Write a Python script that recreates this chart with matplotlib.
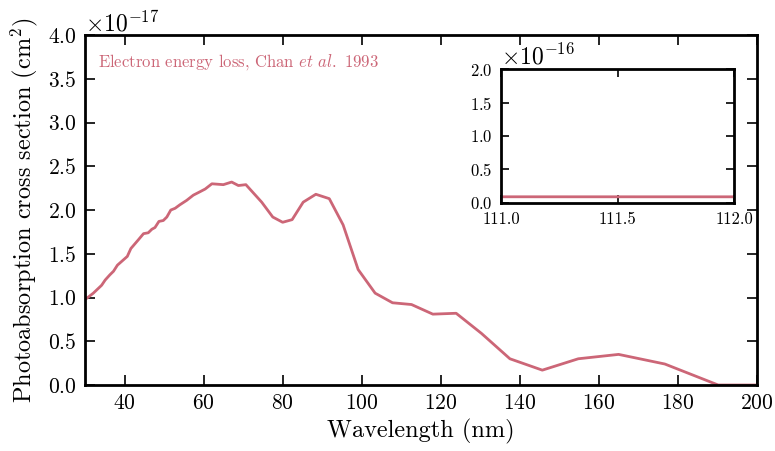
import numpy as np
import matplotlib
matplotlib.use("Agg")
import matplotlib.pyplot as plt

# Computer Modern look for all text
plt.rcParams['font.family'] = 'serif'
plt.rcParams['font.serif'] = ['cmr10']
plt.rcParams['mathtext.fontset'] = 'cm'
plt.rcParams['axes.formatter.use_mathtext'] = True
plt.rcParams['axes.unicode_minus'] = True

# Photoabsorption cross section, electron energy loss (Chan et al. 1993)
wavelength = [30.4, 32.1, 34.2, 35.1, 36.3, 37.2, 38.2, 39.7, 40.7, 41.6,
              43.5, 44.8, 46.0, 46.9, 47.7, 48.7, 49.8, 50.7, 51.7, 52.8,
              54.0, 55.7, 57.4, 58.7, 60.4, 62.1, 65.0, 67.1, 68.8, 70.7,
              74.7, 77.5, 80.0, 82.4, 85.2, 88.4, 91.8, 95.3, 99.1, 103.4,
              107.8, 112.6, 118.0, 123.9, 130.3, 137.5, 145.7, 154.8, 165.0,
              176.7, 190.2, 200.0]
cross_section = [0.99, 1.05, 1.14, 1.20, 1.26, 1.30, 1.37, 1.43, 1.47, 1.56,
                 1.66, 1.73, 1.74, 1.78, 1.80, 1.87, 1.88, 1.92, 2.00, 2.02,
                 2.06, 2.11, 2.17, 2.20, 2.24, 2.30, 2.29, 2.32, 2.28, 2.29,
                 2.09, 1.92, 1.86, 1.89, 2.09, 2.18, 2.13, 1.83, 1.32, 1.05,
                 0.94, 0.92, 0.81, 0.82, 0.59, 0.30, 0.17, 0.30, 0.35,
                 0.24, 0.00, 0.00]
cross_section = np.array(cross_section) * 1e-17

main_xlim = (30, 200)
main_ylim = (0, 4.0e-17)
inset_xlim = (111.0, 112.0)
inset_ylim = (0, 2.0e-16)

line_color = '#cc6677'

fig = plt.figure(figsize=(7.75, 4.51), dpi=100)
ax = fig.add_axes([0.1097, 0.1463, 0.867, 0.776])

ax.plot(wavelength, cross_section, color=line_color, lw=2)
ax.set_xlim(*main_xlim)
ax.set_ylim(*main_ylim)
ax.set_xticks(np.arange(40, 201, 20))
ax.set_yticks(np.arange(0, 4.01e-17, 0.5e-17))
ax.ticklabel_format(axis='y', style='sci', scilimits=(0, 0))
ax.yaxis.get_offset_text().set_fontsize(17)
ax.set_xlabel('Wavelength (nm)', fontsize=17.5, labelpad=4)
ax.set_ylabel('Photoabsorption cross section (cm$^2$)', fontsize=17.5,
              labelpad=6)
ax.tick_params(direction='in', top=True, right=True, length=7, width=1.2,
               labelsize=15.5, pad=6)
for s in ax.spines.values():
    s.set_linewidth(2)

ax.text(0.02, 0.95, r'Electron energy loss, Chan $\mathit{et\ al.}$ 1993',
        transform=ax.transAxes, color=line_color, fontsize=12,
        ha='left', va='top')

# zoomed view around 111-112 nm
axin = fig.add_axes([0.6465, 0.5499, 0.3006, 0.2971])
axin.plot(wavelength, cross_section, color=line_color, lw=2)
axin.set_xlim(*inset_xlim)
axin.set_ylim(*inset_ylim)
axin.set_xticks([111.0, 111.5, 112.0])
axin.set_yticks(np.arange(0, 2.01e-16, 0.5e-16))
axin.ticklabel_format(axis='y', style='sci', scilimits=(0, 0))
axin.xaxis.set_major_formatter(plt.FormatStrFormatter('%.1f'))
axin.yaxis.get_offset_text().set_fontsize(17)
axin.tick_params(direction='in', top=True, right=True, length=6, width=1.2,
                 labelsize=12, pad=6)
for s in axin.spines.values():
    s.set_linewidth(2)

fig.savefig('out.png', dpi=100)
